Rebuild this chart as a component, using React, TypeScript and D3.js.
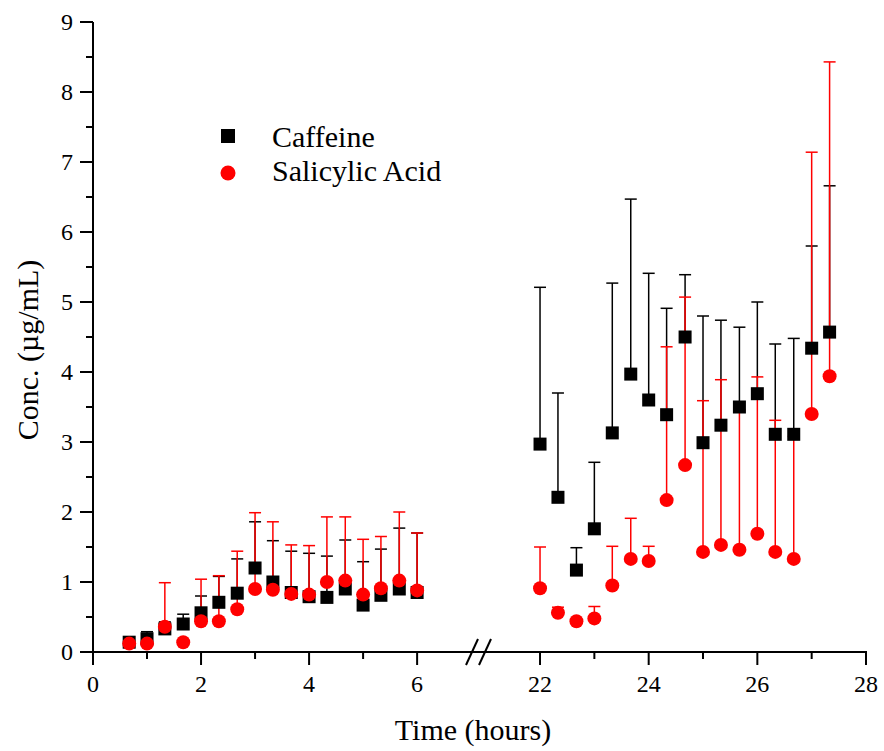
import React from "react";
import * as d3 from "d3";

const timesEarly = [0.67, 1, 1.33, 1.67, 2, 2.33, 2.67, 3, 3.33, 3.67, 4, 4.33, 4.67, 5, 5.33, 5.67, 6];
const caffeineEarly = [0.14, 0.19, 0.33, 0.40, 0.56, 0.71, 0.84, 1.20, 1.00, 0.85, 0.79, 0.78, 0.90, 0.67, 0.81, 0.90, 0.85];
const caffeineEarlyErr = [0.14, 0.29, 0.43, 0.54, 0.80, 1.08, 1.33, 1.86, 1.59, 1.44, 1.41, 1.37, 1.60, 1.29, 1.47, 1.77, 1.70];
const salicylicEarly = [0.12, 0.12, 0.36, 0.14, 0.44, 0.44, 0.61, 0.90, 0.89, 0.83, 0.82, 1.00, 1.02, 0.82, 0.91, 1.02, 0.88];
const salicylicEarlyErr = [0.12, 0.12, 0.99, 0.14, 1.04, 1.09, 1.44, 1.99, 1.86, 1.53, 1.52, 1.93, 1.93, 1.61, 1.65, 2.00, 1.70];

const timesLate = [22, 22.33, 22.67, 23, 23.33, 23.67, 24, 24.33, 24.67, 25, 25.33, 25.67, 26, 26.33, 26.67, 27, 27.33];
const caffeineLate = [2.97, 2.21, 1.17, 1.76, 3.13, 3.97, 3.60, 3.39, 4.50, 2.99, 3.24, 3.50, 3.69, 3.11, 3.11, 4.34, 4.57];
const caffeineLateErr = [5.21, 3.70, 1.49, 2.71, 5.27, 6.47, 5.41, 4.91, 5.39, 4.80, 4.74, 4.64, 5.00, 4.40, 4.48, 5.80, 6.66];
const salicylicLate = [0.91, 0.56, 0.44, 0.48, 0.95, 1.33, 1.30, 2.17, 2.67, 1.43, 1.53, 1.46, 1.69, 1.43, 1.33, 3.40, 3.94];
const salicylicLateErr = [1.50, 0.64, 0.44, 0.65, 1.51, 1.91, 1.51, 4.36, 5.07, 3.59, 3.89, 3.46, 3.93, 3.31, 3.08, 7.14, 8.43];

const yTicks = [0, 1, 2, 3, 4, 5, 6, 7, 8, 9];
const xTicksEarly = [0, 2, 4, 6];
const xMinorEarly = [1, 3, 5];
const xTicksLate = [22, 24, 26, 28];
const xMinorLate = [23, 25, 27];

const FONT = "'Liberation Serif', 'Times New Roman', serif";

export default function App() {
  const y = d3.scaleLinear().domain([0, 9]).range([652, 22]);
  const xEarly = d3.scaleLinear().domain([0, 7.09]).range([93, 476]);
  const xLate = d3.scaleLinear().domain([21, 28]).range([485.7, 866]);
  const yMinor = d3.range(0.5, 9, 1);

  type Pt = { x: number; v: number; e: number };
  const mk = (sx: (t: number) => number, ts: number[], vs: number[], es: number[]): Pt[] =>
    ts.map((t, i) => ({ x: sx(t), v: vs[i], e: es[i] }));

  const caf = [...mk(xEarly, timesEarly, caffeineEarly, caffeineEarlyErr), ...mk(xLate, timesLate, caffeineLate, caffeineLateErr)];
  const sal = [...mk(xEarly, timesEarly, salicylicEarly, salicylicEarlyErr), ...mk(xLate, timesLate, salicylicLate, salicylicLateErr)];

  const errBars = (pts: Pt[], color: string, key: string) =>
    pts.map((p, i) =>
      p.e > p.v + 0.02 ? (
        <g key={key + i} stroke={color} strokeWidth={1.5}>
          <line x1={p.x} x2={p.x} y1={y(p.v)} y2={y(p.e)} />
          <line x1={p.x - 6} x2={p.x + 6} y1={y(p.e)} y2={y(p.e)} />
        </g>
      ) : null
    );

  const axisY = 652;

  return (
    <svg width={884} height={751} style={{ position: "absolute", left: 0, top: 0, background: "#fff" }} fontFamily={FONT}>
      {errBars(caf, "#000", "ce")}
      {errBars(sal, "#ff0000", "se")}
      {caf.map((p, i) => (
        <rect key={"cs" + i} x={p.x - 6.5} y={y(p.v) - 6.5} width={13} height={13} fill="#000" />
      ))}
      {sal.map((p, i) => (
        <circle key={"sc" + i} cx={p.x} cy={y(p.v)} r={7} fill="#ff0000" />
      ))}

      {/* Y axis */}
      <line x1={93} x2={93} y1={y(9)} y2={axisY + 1} stroke="#000" strokeWidth={2} />
      {yTicks.map((t) => (
        <g key={"yt" + t}>
          <line x1={80} x2={93} y1={y(t)} y2={y(t)} stroke="#000" strokeWidth={2} />
          <text x={73} y={y(t)} dy="0.34em" textAnchor="end" fontSize={24}>{t}</text>
        </g>
      ))}
      {yMinor.map((t) => (
        <line key={"ym" + t} x1={86} x2={93} y1={y(t)} y2={y(t)} stroke="#000" strokeWidth={2} />
      ))}

      {/* X axis */}
      <line x1={92} x2={867} y1={axisY} y2={axisY} stroke="#000" strokeWidth={2} />
      {xTicksEarly.map((t) => (
        <g key={"xe" + t}>
          <line x1={xEarly(t)} x2={xEarly(t)} y1={axisY} y2={axisY + 13} stroke="#000" strokeWidth={2} />
          <text x={xEarly(t)} y={692} textAnchor="middle" fontSize={24}>{t}</text>
        </g>
      ))}
      {xMinorEarly.map((t) => (
        <line key={"xem" + t} x1={xEarly(t)} x2={xEarly(t)} y1={axisY} y2={axisY + 7} stroke="#000" strokeWidth={2} />
      ))}
      {xTicksLate.map((t) => (
        <g key={"xl" + t}>
          <line x1={xLate(t)} x2={xLate(t)} y1={axisY} y2={axisY + 13} stroke="#000" strokeWidth={2} />
          <text x={xLate(t)} y={692} textAnchor="middle" fontSize={24}>{t}</text>
        </g>
      ))}
      {xMinorLate.map((t) => (
        <line key={"xlm" + t} x1={xLate(t)} x2={xLate(t)} y1={axisY} y2={axisY + 7} stroke="#000" strokeWidth={2} />
      ))}
      {/* break marks */}
      <line x1={466} y1={665} x2={478} y2={639} stroke="#000" strokeWidth={2} />
      <line x1={479} y1={665} x2={491} y2={639} stroke="#000" strokeWidth={2} />

      {/* titles */}
      <text x={473} y={740} textAnchor="middle" fontSize={30}>Time (hours)</text>
      <text transform={`translate(38,350) rotate(-90)`} textAnchor="middle" fontSize={30}>Conc. (µg/mL)</text>

      {/* legend */}
      <rect x={221} y={129} width={14} height={14} fill="#000" />
      <text x={272} y={147} fontSize={30}>Caffeine</text>
      <circle cx={228} cy={173} r={7.5} fill="#ff0000" />
      <text x={272} y={181} fontSize={30}>Salicylic Acid</text>
    </svg>
  );
}
